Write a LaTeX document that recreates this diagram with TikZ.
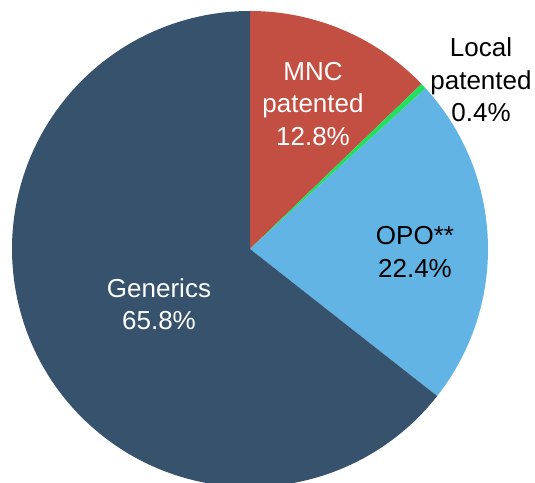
\documentclass[tikz,border=0pt]{standalone}
\usepackage{fontspec}
\setmainfont{Liberation Sans}
\definecolor{genblue}{HTML}{37526D}
\definecolor{mncred}{HTML}{C34F43}
\definecolor{opoblue}{HTML}{62B4E4}
\definecolor{locgreen}{HTML}{22E05C}
\tikzset{
  lbl/.style={align=center, font=\fontsize{26}{32.5}\selectfont, inner sep=0pt},
}
\begin{document}
\begin{tikzpicture}[x=1pt,y=1pt]
    \clip (0,0) rectangle (535,482);
    \coordinate (c) at (250,233);
    % slices, clockwise from the top
    \fill[mncred]   (c) -- ++(90:238)    arc[start angle=90,    end angle=43.92,  radius=238] -- cycle;
    \fill[locgreen] (c) -- ++(43.92:238) arc[start angle=43.92, end angle=42.48,  radius=238] -- cycle;
    \fill[opoblue]  (c) -- ++(42.48:238) arc[start angle=42.48, end angle=-38.16, radius=238] -- cycle;
    \fill[genblue]  (c) -- ++(-38.16:238) arc[start angle=-38.16, end angle=-270, radius=238] -- cycle;
    % labels
    \node[lbl, text=white] (mnc) at (313,378) {MNC\\patented\\12.8\%};
    \node[lbl] (local) at (481,402) {Local\\patented\\0.4\%};
    \node[lbl] (opo) at (415,230) {OPO**\\22.4\%};
    \node[lbl, text=white] (gen) at (159,178) {Generics\\65.8\%};
\end{tikzpicture}
\end{document}
